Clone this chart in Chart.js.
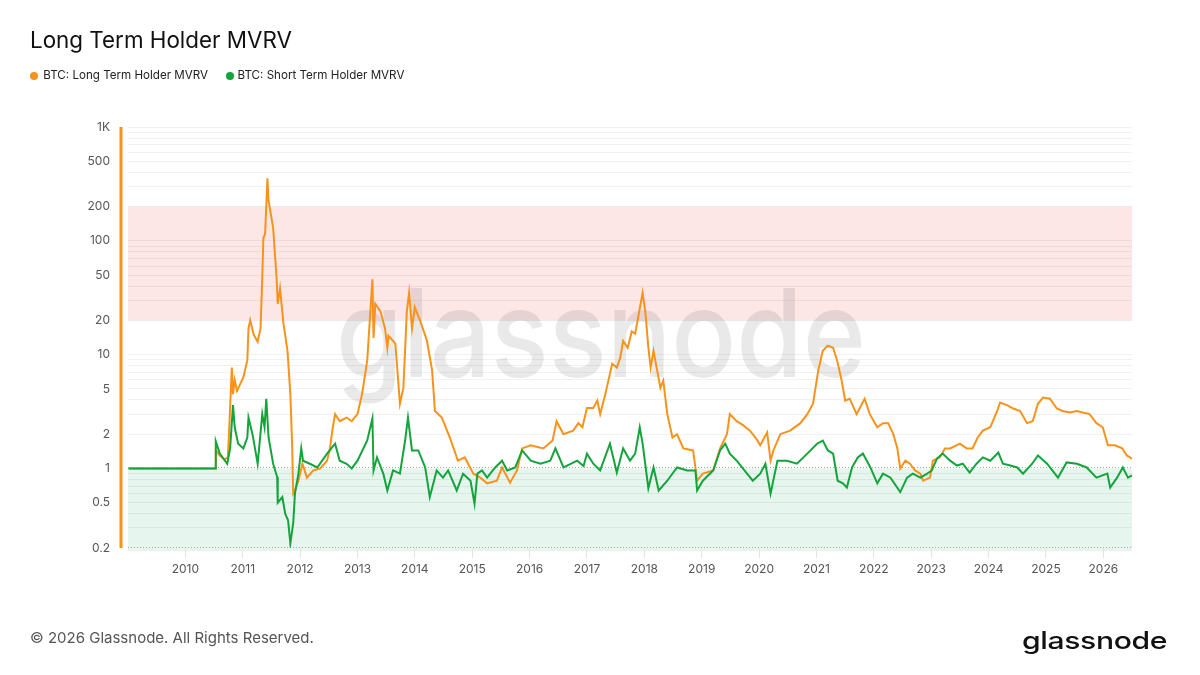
<!DOCTYPE html>
<html>
<head>
<meta charset="utf-8">
<script src="https://cdn.jsdelivr.net/npm/chart.js@4.4.1/dist/chart.umd.min.js"></script>
<style>
  html, body { margin:0; padding:0; background:#fff; width:1200px; height:675px; overflow:hidden; }
  body { font-family: Inter, "Noto Sans", Arial, sans-serif; }
  #wrap { position:relative; width:1200px; height:675px; }
  #c { position:absolute; left:0; top:0; }
  .t { position:absolute; white-space:nowrap; }
  #title { left:30px; top:29px; font-size:22.4px; line-height:22.4px; color:#111; }
  .lg { top:70.3px; font-size:11.6px; line-height:11.6px; color:#222; }
  .dot { position:absolute; width:8px; height:8px; border-radius:50%; top:72px; }
  #copy { left:30px; top:630px; font-size:15px; line-height:15px; color:#555; }
  #logo { left:1022px; top:629px; font-size:24px; line-height:24px; color:#111; font-weight:500; transform-origin:0 0; letter-spacing:-0.3px; }
</style>
</head>
<body>
<div id="wrap">
  <canvas id="c" width="1200" height="675" style="width:1200px;height:675px"></canvas>
  <div class="t" id="title">Long Term Holder MVRV</div>
  <div class="dot" style="left:29.5px;background:#F7931A"></div>
  <div class="t lg" style="left:43.3px">BTC: Long Term Holder MVRV</div>
  <div class="dot" style="left:225.5px;background:#13A43C"></div>
  <div class="t lg" style="left:237.5px">BTC: Short Term Holder MVRV</div>
  <div class="t" id="copy">© 2026 Glassnode. All Rights Reserved.</div>
  <div class="t" id="logo">glassnode</div>
</div>
<script>
// ---- Data (decimal years, ratio values) ----
const lthDates = [2009.01,2010.52,2010.53,2010.60,2010.68,2010.74,2010.76,2010.81,2010.83,2010.86,2010.90,2011.01,2011.08,2011.10,2011.13,2011.19,2011.26,2011.31,2011.34,2011.36,2011.39,2011.43,2011.45,2011.53,2011.59,2011.61,2011.65,2011.71,2011.78,2011.83,2011.86,2011.88,2011.91,2011.97,2012.04,2012.12,2012.23,2012.35,2012.47,2012.52,2012.57,2012.61,2012.69,2012.81,2012.90,2013.00,2013.08,2013.17,2013.26,2013.28,2013.31,2013.40,2013.48,2013.52,2013.54,2013.66,2013.74,2013.80,2013.86,2013.90,2013.95,2014.00,2014.09,2014.21,2014.30,2014.35,2014.47,2014.61,2014.75,2014.87,2015.02,2015.14,2015.26,2015.43,2015.52,2015.66,2015.78,2015.87,2016.02,2016.24,2016.40,2016.47,2016.59,2016.76,2016.85,2016.92,2017.00,2017.11,2017.18,2017.23,2017.32,2017.44,2017.52,2017.58,2017.63,2017.71,2017.78,2017.84,2017.89,2017.97,2018.02,2018.07,2018.11,2018.16,2018.28,2018.33,2018.40,2018.49,2018.57,2018.68,2018.85,2018.92,2019.02,2019.20,2019.32,2019.44,2019.49,2019.61,2019.72,2019.84,2019.96,2020.02,2020.14,2020.20,2020.25,2020.37,2020.54,2020.72,2020.84,2020.94,2021.03,2021.11,2021.20,2021.29,2021.36,2021.44,2021.50,2021.58,2021.70,2021.84,2021.93,2022.06,2022.16,2022.25,2022.34,2022.41,2022.46,2022.55,2022.63,2022.72,2022.81,2022.86,2022.98,2023.03,2023.15,2023.24,2023.33,2023.50,2023.62,2023.72,2023.81,2023.90,2024.03,2024.15,2024.20,2024.32,2024.43,2024.55,2024.67,2024.77,2024.86,2024.95,2025.07,2025.19,2025.29,2025.42,2025.54,2025.64,2025.76,2025.88,2025.99,2026.08,2026.20,2026.33,2026.41,2026.50];
const lthValues = [1,1,1.44,1.3,1.2,1.25,2.0,7.7,4.5,6.0,4.8,6.3,8.9,17,20,15,13,17,47,106,115,355,225,130,47,28,38,18.7,10.8,4.5,1.65,0.6,0.64,0.78,1.1,0.83,0.96,1.0,1.17,1.5,2.3,3.0,2.6,2.8,2.6,3.0,4.5,8.9,46,14,28,24,17,11.5,14.7,12.5,3.7,5.1,24,35,17,26,20,13.3,7.3,3.2,2.8,1.87,1.17,1.25,0.9,0.83,0.74,0.78,1.02,0.75,0.96,1.5,1.6,1.5,1.76,2.6,2.0,2.15,2.5,2.3,3.4,3.4,3.95,3.0,4.5,8.3,7.7,9.4,13.2,11.5,16,15.3,21,35,23,11.5,7.7,10.8,5.1,5.9,3.0,1.87,2.0,1.5,1.44,0.78,0.9,0.96,1.5,2.0,3.0,2.6,2.4,2.15,1.8,1.6,2.07,1.17,1.44,2.0,2.15,2.5,3.0,3.7,7.2,10.8,12,11.5,8.9,5.9,3.95,4.1,3.0,4.1,3.0,2.3,2.5,2.5,2.0,1.5,1.0,1.17,1.1,0.96,0.9,0.78,0.83,1.17,1.25,1.5,1.5,1.65,1.5,1.5,1.87,2.15,2.3,3.2,3.8,3.6,3.36,3.2,2.5,2.6,3.7,4.2,4.1,3.36,3.2,3.1,3.2,3.1,3.0,2.5,2.3,1.6,1.6,1.5,1.3,1.22];

const sthDates = [2009.01,2010.52,2010.53,2010.60,2010.73,2010.78,2010.83,2010.86,2010.92,2011.01,2011.08,2011.10,2011.17,2011.26,2011.34,2011.38,2011.41,2011.45,2011.53,2011.60,2011.61,2011.69,2011.74,2011.79,2011.83,2011.88,2011.91,2011.97,2012.02,2012.05,2012.17,2012.30,2012.47,2012.61,2012.69,2012.81,2012.90,2013.00,2013.17,2013.26,2013.28,2013.34,2013.45,2013.52,2013.62,2013.74,2013.83,2013.88,2013.95,2014.06,2014.18,2014.26,2014.38,2014.49,2014.58,2014.73,2014.84,2014.97,2015.04,2015.09,2015.17,2015.26,2015.40,2015.52,2015.61,2015.75,2015.87,2016.02,2016.19,2016.36,2016.45,2016.59,2016.83,2016.94,2017.00,2017.11,2017.23,2017.40,2017.52,2017.63,2017.75,2017.84,2017.92,2017.97,2018.07,2018.16,2018.25,2018.40,2018.57,2018.75,2018.89,2018.92,2019.02,2019.20,2019.32,2019.41,2019.49,2019.61,2019.79,2019.89,2020.02,2020.11,2020.20,2020.32,2020.49,2020.66,2020.84,2021.01,2021.11,2021.20,2021.29,2021.37,2021.46,2021.53,2021.62,2021.72,2021.81,2021.94,2022.06,2022.16,2022.29,2022.46,2022.58,2022.68,2022.81,2022.93,2023.01,2023.10,2023.20,2023.33,2023.45,2023.55,2023.67,2023.79,2023.90,2024.03,2024.17,2024.25,2024.38,2024.50,2024.60,2024.76,2024.86,2025.02,2025.21,2025.36,2025.54,2025.71,2025.88,2026.07,2026.12,2026.24,2026.34,2026.43,2026.50];
const sthValues = [1,1,1.73,1.35,1.1,1.5,3.6,2.3,1.65,1.5,1.87,2.8,2.0,1.1,3.0,2.3,4.1,1.87,1.1,0.84,0.5,0.56,0.40,0.35,0.22,0.33,0.6,0.9,1.5,1.17,1.1,1.02,1.35,1.65,1.17,1.1,1.0,1.17,1.76,2.75,0.96,1.25,0.9,0.64,0.96,0.9,1.76,2.8,1.44,1.44,1.02,0.56,0.96,0.83,0.96,0.64,0.9,0.78,0.49,0.9,0.96,0.83,1.02,1.17,0.96,1.02,1.44,1.17,1.1,1.17,1.5,1.02,1.17,1.05,1.35,1.1,0.96,1.65,0.92,1.5,1.17,1.35,2.3,1.65,0.67,1.02,0.64,0.78,1.02,0.96,0.96,0.64,0.78,0.96,1.44,1.65,1.35,1.17,0.9,0.78,0.9,1.1,0.6,1.17,1.17,1.1,1.35,1.65,1.76,1.44,1.35,0.78,0.74,0.68,1.02,1.25,1.35,1.02,0.74,0.9,0.83,0.62,0.83,0.9,0.83,0.9,0.96,1.22,1.35,1.17,1.06,1.1,0.92,1.1,1.25,1.17,1.38,1.1,1.06,1.02,0.9,1.1,1.3,1.1,0.83,1.13,1.1,1.02,0.83,0.9,0.68,0.83,1.02,0.83,0.87];

const yearTicks = [2010,2011,2012,2013,2014,2015,2016,2017,2018,2019,2020,2021,2022,2023,2024,2025,2026];
const yTickLabels = {0.2:'0.2',0.5:'0.5',1:'1',2:'2',5:'5',10:'10',20:'20',50:'50',100:'100',200:'200',500:'500',1000:'1K'};
const yGridValues = [0.2,0.3,0.4,0.5,0.6,0.7,0.8,0.9,1,2,3,4,5,6,7,8,9,10,20,30,40,50,60,70,80,90,100,200,300,400,500,600,700,800,900,1000];
const redZone = [20, 200];
const greenZoneTop = 1;

const ORANGE = '#F7931A';
const GREEN = '#13A43C';

const toXY = (xs, ys) => xs.map((x, i) => ({x, y: ys[i]}));

const decor = {
  id: 'decor',
  beforeDraw(chart) {
    const {ctx, chartArea: a, scales: {y}} = chart;
    ctx.save();
    const yTop = y.getPixelForValue(redZone[1]), yBot = y.getPixelForValue(redZone[0]);
    ctx.fillStyle = '#fce6e6';
    ctx.fillRect(a.left, yTop, a.right - a.left, yBot - yTop);
    const y1 = y.getPixelForValue(greenZoneTop);
    ctx.fillStyle = '#e6f5ee';
    ctx.fillRect(a.left, y1, a.right - a.left, a.bottom + 3 - y1);
    ctx.restore();
  },
  beforeDatasetsDraw(chart) {
    const {ctx, chartArea: a, scales: {y}} = chart;
    ctx.save();
    // watermark
    ctx.font = '500 122px Inter, "Noto Sans", sans-serif';
    const w = ctx.measureText('glassnode').width;
    ctx.translate(336, 377);
    ctx.scale(530 / w, 1);
    ctx.fillStyle = 'rgba(0,0,0,0.085)';
    ctx.textBaseline = 'alphabetic';
    ctx.fillText('glassnode', 0, 0);
    ctx.restore();
    // dotted reference lines
    ctx.save();
    ctx.strokeStyle = '#a8a8a8';
    ctx.lineWidth = 1;
    ctx.setLineDash([1, 2]);
    [1, 0.2].forEach(v => {
      const py = Math.round(y.getPixelForValue(v)) - 0.5;
      ctx.beginPath();
      ctx.moveTo(a.left, py);
      ctx.lineTo(a.right, py);
      ctx.stroke();
    });
    ctx.restore();
  },
  afterDraw(chart) {
    const {ctx, chartArea: a} = chart;
    ctx.save();
    ctx.strokeStyle = ORANGE;
    ctx.lineWidth = 3;
    ctx.beginPath();
    ctx.moveTo(121, a.top);
    ctx.lineTo(121, a.bottom);
    ctx.stroke();
    ctx.restore();
  }
};

Chart.defaults.font.family = 'Inter, "Noto Sans", sans-serif';

new Chart(document.getElementById('c'), {
  type: 'line',
  data: {
    datasets: [
      { label: 'BTC: Long Term Holder MVRV', data: toXY(lthDates, lthValues), borderColor: ORANGE, borderWidth: 2, pointRadius: 0, tension: 0, order: 1 },
      { label: 'BTC: Short Term Holder MVRV', data: toXY(sthDates, sthValues), borderColor: GREEN, borderWidth: 2, pointRadius: 0, tension: 0, order: 0 }
    ]
  },
  options: {
    responsive: false,
    animation: false,
    devicePixelRatio: 1,
    parsing: false,
    layout: { padding: { top: 127, right: 68, bottom: 87, left: 0 } },
    plugins: { legend: { display: false }, tooltip: { enabled: false } },
    scales: {
      x: {
        type: 'linear', min: 2009.0, max: 2026.5,
        afterBuildTicks: s => { s.ticks = yearTicks.map(v => ({value: v})); },
        afterFit: s => { s.height = 40; },
        ticks: { callback: v => String(v), color: '#555', font: { size: 12 }, padding: 4, maxRotation: 0, autoSkip: false },
        grid: { drawOnChartArea: false, drawTicks: true, tickLength: 10, color: '#e4e4e4' },
        border: { display: false }
      },
      y: {
        type: 'logarithmic', min: 0.2, max: 1000,
        afterBuildTicks: s => { s.ticks = yGridValues.map(v => ({value: v})); },
        afterFit: s => { s.width = 128; },
        ticks: { callback: v => (yTickLabels[v] !== undefined ? yTickLabels[v] : ''), color: '#555', font: { size: 12 }, padding: 18, autoSkip: false },
        grid: { drawTicks: false, color: ctx => (ctx.tick && (ctx.tick.value === 1 || ctx.tick.value === 0.2)) ? 'rgba(0,0,0,0)' : 'rgba(0,0,0,0.055)' },
        border: { display: false }
      }
    }
  },
  plugins: [decor]
});

// fit the footer logo to its width in the reference
const logo = document.getElementById('logo');
const lw = logo.getBoundingClientRect().width;
logo.style.transform = 'scaleX(' + (145 / lw) + ')';
</script>
</body>
</html>
